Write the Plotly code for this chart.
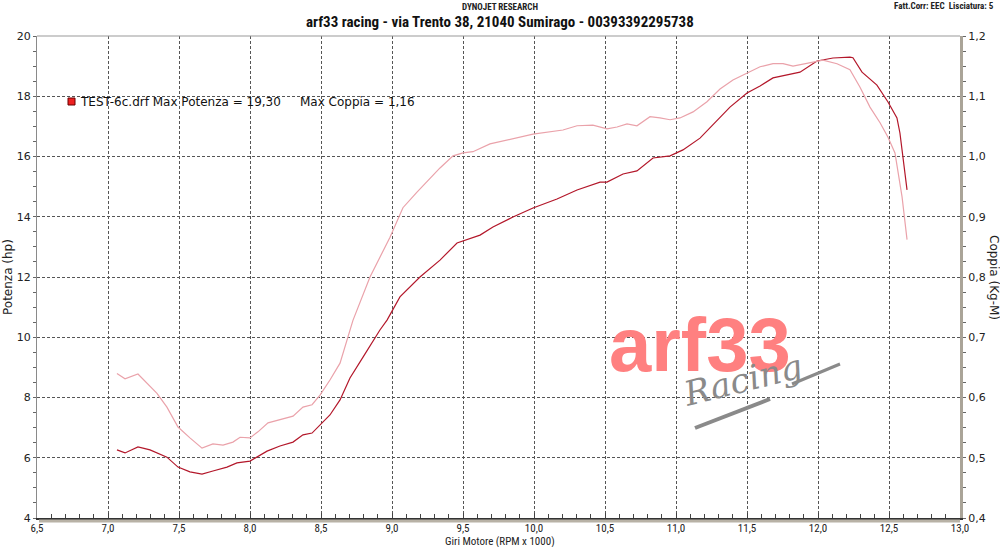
import plotly.graph_objects as go

# ---- data (RPM x 1000) ----
power_rpm = [7.063, 7.120, 7.211, 7.296, 7.415, 7.493, 7.577, 7.662, 7.739, 7.838, 7.908, 8.000,
             8.120, 8.211, 8.303, 8.373, 8.437, 8.493, 8.563, 8.634, 8.704, 8.796, 8.915, 8.965,
             9.056, 9.197, 9.338, 9.458, 9.620, 9.711, 9.852, 9.993, 10.162, 10.303, 10.465,
             10.514, 10.627, 10.725, 10.838, 10.958, 11.049, 11.169, 11.289, 11.380, 11.500,
             11.592, 11.683, 11.782, 11.873, 11.993, 12.106, 12.225, 12.246, 12.310, 12.415,
             12.493, 12.556, 12.577, 12.599, 12.627]
power_hp = [6.26, 6.16, 6.36, 6.26, 6.02, 5.69, 5.53, 5.46, 5.56, 5.69, 5.83, 5.89,
            6.22, 6.39, 6.52, 6.76, 6.82, 7.09, 7.42, 7.92, 8.65, 9.34, 10.24, 10.57,
            11.34, 12.00, 12.56, 13.13, 13.39, 13.66, 13.99, 14.29, 14.59, 14.89, 15.15,
            15.15, 15.42, 15.52, 15.95, 16.02, 16.22, 16.61, 17.21, 17.64, 18.11,
            18.34, 18.61, 18.71, 18.80, 19.17, 19.27, 19.30, 19.28, 18.80, 18.37,
            17.81, 17.28, 16.78, 15.98, 14.89]

torque_rpm = [7.063, 7.120, 7.211, 7.345, 7.415, 7.493, 7.577, 7.662, 7.739, 7.810, 7.880, 7.930,
              8.000, 8.056, 8.127, 8.211, 8.303, 8.373, 8.437, 8.493, 8.563, 8.634, 8.704, 8.725,
              8.845, 8.986, 9.077, 9.176, 9.338, 9.430, 9.500, 9.570, 9.690, 9.852, 9.993,
              10.204, 10.303, 10.415, 10.514, 10.585, 10.655, 10.725, 10.817, 10.887, 10.958,
              11.028, 11.120, 11.218, 11.310, 11.401, 11.500, 11.592, 11.683, 11.754, 11.824,
              11.965, 12.035, 12.134, 12.225, 12.296, 12.366, 12.437, 12.493, 12.542, 12.563,
              12.592, 12.627]
torque_kgm = [0.640, 0.631, 0.639, 0.607, 0.584, 0.551, 0.533, 0.516, 0.523, 0.521, 0.526, 0.534,
              0.533, 0.543, 0.558, 0.563, 0.569, 0.584, 0.588, 0.604, 0.629, 0.657, 0.712, 0.728,
              0.800, 0.866, 0.915, 0.941, 0.981, 1.001, 1.006, 1.008, 1.021, 1.029, 1.037,
              1.044, 1.051, 1.052, 1.046, 1.049, 1.054, 1.051, 1.066, 1.064, 1.061,
              1.064, 1.074, 1.091, 1.112, 1.127, 1.139, 1.149, 1.154, 1.154, 1.150,
              1.157, 1.160, 1.154, 1.144, 1.115, 1.082, 1.056, 1.032, 1.006, 0.978,
              0.933, 0.862]

file_name = "TEST-6c.drf"
title_text = "arf33 racing - via Trento 38, 21040 Sumirago - 00393392295738"

# ---- layout geometry helpers (pixels -> paper) ----
W, H = 1000, 547
L, R, T, B = 37, 40, 36, 29
PW, PH = W - L - R, H - T - B


def px(x):
    return (x - L) / PW


def py(y):
    return (H - B - y) / PH


fig = go.Figure()
fig.add_trace(go.Scatter(x=torque_rpm, y=torque_kgm, yaxis="y2", mode="lines",
                         line=dict(color="#eaa2aa", width=1.2), name="Coppia",
                         showlegend=False, hoverinfo="skip"))
fig.add_trace(go.Scatter(x=power_rpm, y=power_hp, mode="lines",
                         line=dict(color="#b3172a", width=1.2), name="Potenza",
                         showlegend=False, hoverinfo="skip"))

narrow = "Liberation Sans Narrow, Roboto Condensed, Liberation Sans, Arial"
verd = "DejaVu Sans, Verdana"

fig.update_layout(
    width=W, height=H,
    margin=dict(l=L, r=R, t=T, b=B),
    paper_bgcolor="white", plot_bgcolor="white",
    separators=",.",
    showlegend=False,
    xaxis=dict(range=[6.5, 13.0], dtick=0.5, tick0=6.5, tickformat=".1f",
               showgrid=True, gridcolor="#555", griddash="3px,2px", gridwidth=1,
               showline=True, linecolor="#333", linewidth=2,
               ticks="inside", ticklen=5, tickcolor="#444",
               minor=dict(dtick=0.1, ticks="inside", ticklen=4, tickcolor="#444"),
               tickfont=dict(family=narrow, size=11, color="#222"),
               ticklabelstandoff=-1,
               zeroline=False, automargin=False, fixedrange=True),
    yaxis=dict(range=[4, 20], dtick=2, tick0=4,
               showgrid=True, gridcolor="#555", griddash="3px,2px", gridwidth=1,
               showline=True, linecolor="#8a8a8a", linewidth=1,
               ticks="outside", ticklen=3, tickcolor="#666",
               minor=dict(dtick=0.5, ticks="outside", ticklen=3, tickcolor="#666"),
               tickfont=dict(family=verd, size=11, color="#222"),
               zeroline=False, automargin=False, fixedrange=True),
    yaxis2=dict(range=[0.4, 1.2], dtick=0.1, tick0=0.4, tickformat=".1f",
                overlaying="y", side="right", showgrid=False,
                showline=True, linecolor="#aaa498", linewidth=3,
                ticks="outside", ticklen=3, tickcolor="#666",
                minor=dict(dtick=0.025, ticks="outside", ticklen=3, tickcolor="#666"),
                tickfont=dict(family=verd, size=11, color="#222"),
                zeroline=False, automargin=False, fixedrange=True),
)

# frame top line and bottom shadow
fig.add_shape(type="line", xref="paper", yref="paper", x0=0, x1=1, y0=1, y1=1,
              line=dict(color="#999", width=1))
fig.add_shape(type="line", xref="paper", yref="paper", x0=px(39), x1=1, y0=py(521), y1=py(521),
              line=dict(color="#b8b2a6", width=3))


def note(text, x, y, size, family, color="#222", xanchor="center", angle=0, style="normal"):
    fig.add_annotation(text=text, xref="paper", yref="paper", x=px(x), y=py(y),
                       xanchor=xanchor, yanchor="middle", showarrow=False, textangle=angle,
                       font=dict(family=family, size=size, color=color, style=style))


# header texts
note("<b>DYNOJET RESEARCH</b>", 500, 7, 9, narrow)
note("<b>" + title_text + "</b>", 500, 22, 15, narrow, "#111")
note("<b>Fatt.Corr: EEC  Lisciatura: 5</b>", 996, 6, 9, narrow, xanchor="right")

# axis titles
note("Giri Motore (RPM x 1000)", 500, 541, 11, narrow)
note("Potenza (hp)", 8, 277, 12, verd, angle=-90)
note("Coppia (Kg-M)", 994, 277, 12, verd, angle=90)

# legend
maxp = f"{max(power_hp):.2f}".replace(".", ",")
maxc = f"{max(torque_kgm):.2f}".replace(".", ",")
fig.add_shape(type="rect", xref="paper", yref="paper", x0=px(68), x1=px(75), y0=py(105), y1=py(98),
              line=dict(color="#600", width=1), fillcolor="#ee2020")
note(f"{file_name} Max Potenza = {maxp}     Max Coppia = {maxc}", 78, 102, 12, verd, "#111",
     xanchor="left")

# watermark logo
note("<b>arf33</b>", 700, 344, 76, "Liberation Sans, Arial", "#ff8080")
note("Racing", 742, 380, 34, "DejaVu Serif", "#8a8a8a", angle=-14, style="italic")
fig.add_shape(type="line", xref="paper", yref="paper", x0=px(695), y0=py(428), x1=px(770), y1=py(399),
              line=dict(color="#8a8a8a", width=4))
fig.add_shape(type="line", xref="paper", yref="paper", x0=px(792), y0=py(384), x1=px(840), y1=py(364),
              line=dict(color="#8a8a8a", width=3))

fig.write_html("out.html", config={"displayModeBar": False},
               post_script="document.body.style.margin='0';")
